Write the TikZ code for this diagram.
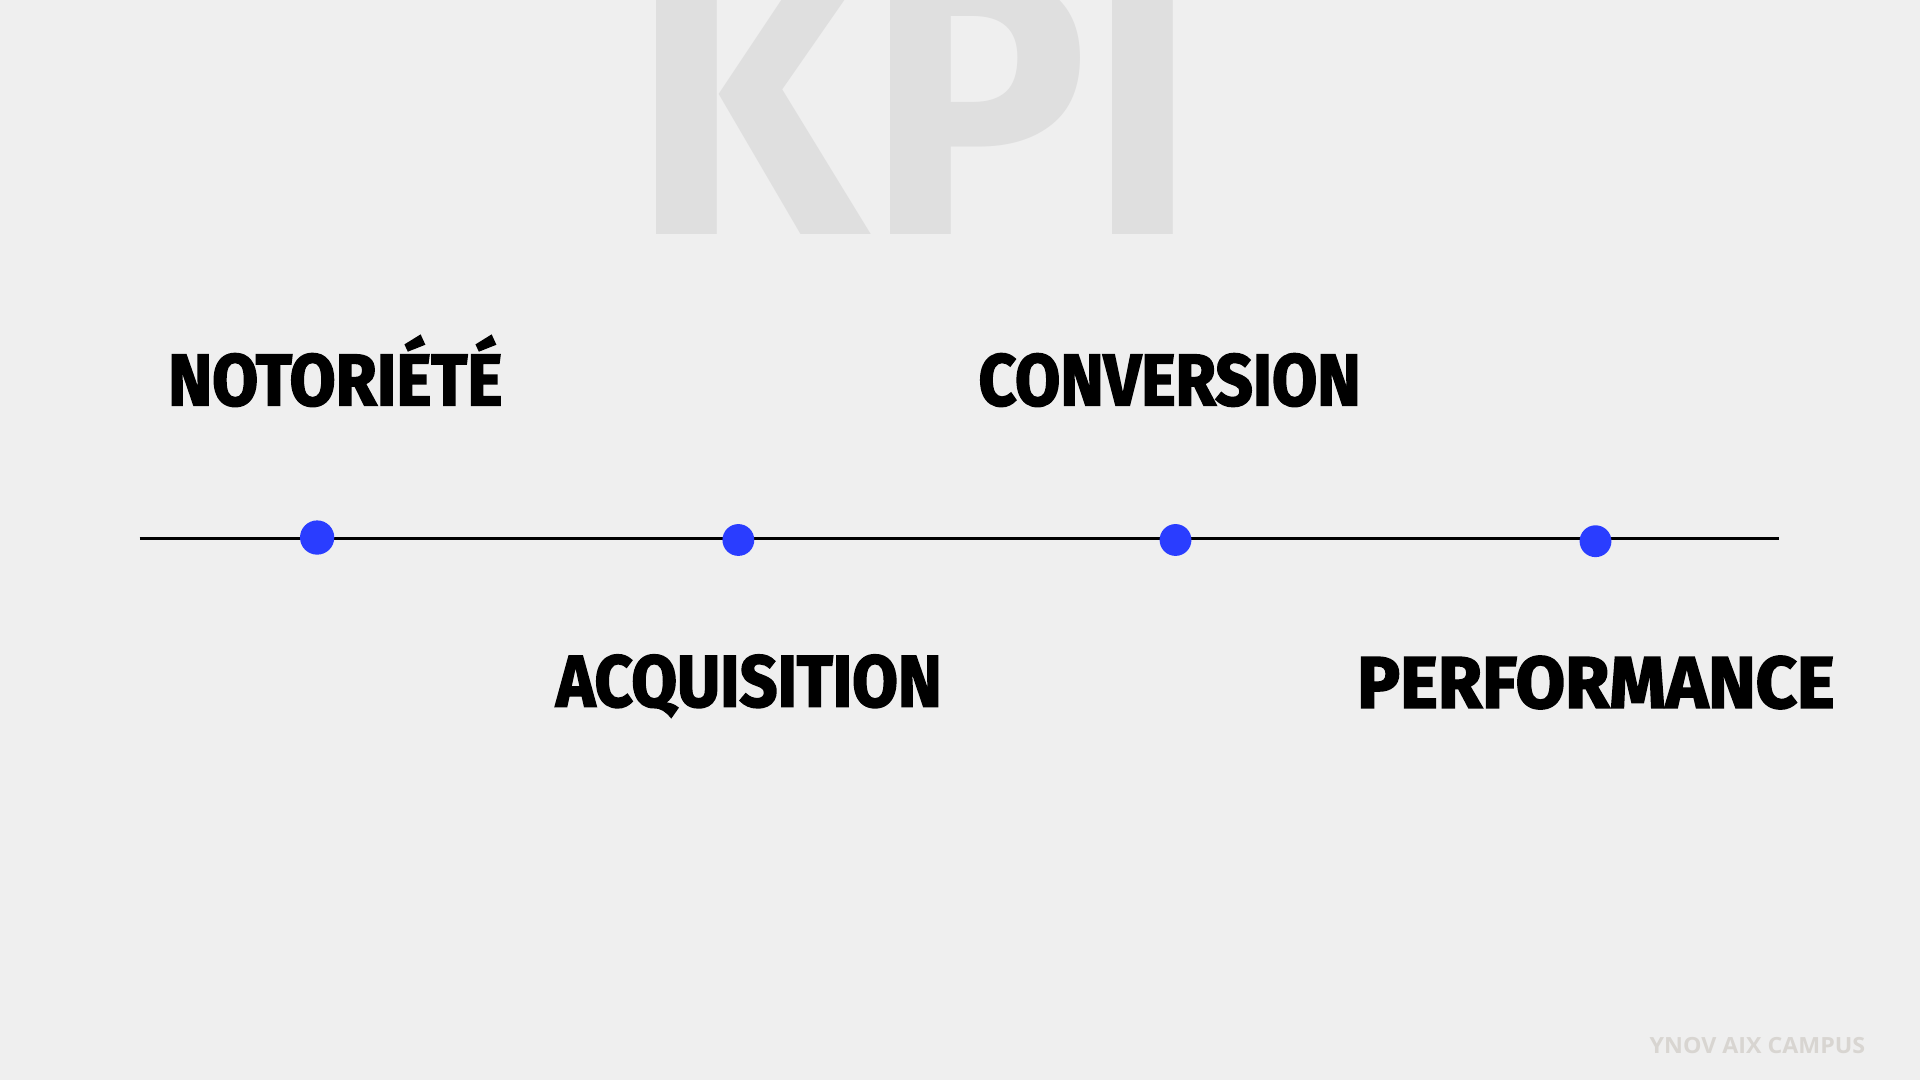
\documentclass[tikz,border=0pt]{standalone}
\usepackage{fontspec}
\setmainfont{Fira Sans}
\newfontfamily\lblfont{Fira Sans}[BoldFeatures={FakeBold=2.5}]
\newfontfamily\kpifont{Fira Sans}
\newfontfamily\footfont{Open Sans}
\definecolor{bg}{HTML}{EFEFEF}
\definecolor{kpigrey}{HTML}{DFDFDF}
\definecolor{dotblue}{HTML}{2A3DFF}
\definecolor{footgrey}{HTML}{D8D5D1}
\begin{document}
\begin{tikzpicture}[x=1pt,y=1pt,
  lbl/.style={anchor=base west, inner sep=0pt, font=\lblfont\bfseries\fontsize{59.5}{60}\selectfont},
  dotbig/.style={circle, fill=dotblue, minimum size=28pt, inner sep=0pt},
  dotsmall/.style={circle, fill=dotblue, minimum size=26pt, inner sep=0pt},
  axis/.style={line width=2.8pt, black}]
\useasboundingbox (0,0) rectangle (1568,882);
\fill[bg] (0,0) rectangle (1568,882);
\node[anchor=south west, inner sep=0pt, text=kpigrey] (kpi) at (516,690)
  {\resizebox{461pt}{214pt}{\kpifont\bfseries KPI}};
\coordinate (left) at (114,442);
\coordinate (right) at (1453,442);
\draw[axis] (left) -- (right);
\node[dotbig] (d1) at (259,443) {};
\node[dotsmall] (d2) at (603,441) {};
\node[dotsmall] (d3) at (960,441) {};
\node[dotsmall] (d4) at (1303,440) {};
\node[lbl] (notoriete) at (137,551) {\resizebox{273pt}{\height}{NOTORIÉTÉ}};
\node[lbl] (conversion) at (799,551) {\resizebox{312pt}{\height}{CONVERSION}};
\node[lbl] (acquisition) at (454,305) {\resizebox{315pt}{\height}{ACQUISITION}};
\node[lbl] (performance) at (1108,304) {\resizebox{390pt}{\height}{PERFORMANCE}};
\node[anchor=base west, inner sep=0pt, text=footgrey, font=\footfont\bfseries\fontsize{18.2}{19}\selectfont] (campus) at (1347,22)
  {\resizebox{176pt}{\height}{YNOV AIX CAMPUS}};
\end{tikzpicture}
\end{document}
